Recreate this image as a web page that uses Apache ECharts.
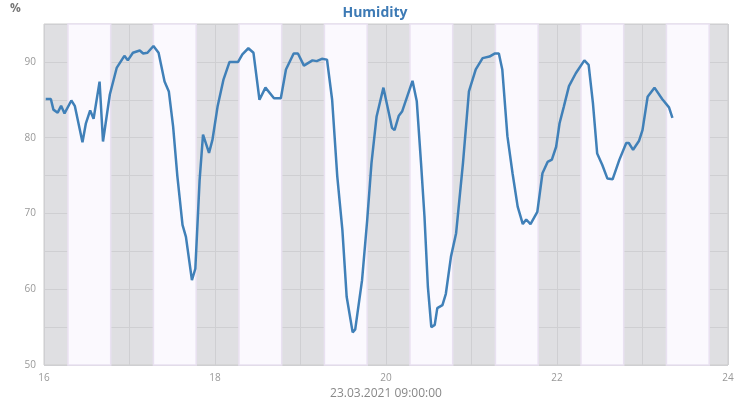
<!DOCTYPE html>
<html><head><meta charset="utf-8">
<script src="https://cdn.jsdelivr.net/npm/echarts@6/dist/echarts.min.js"></script>
<style>html,body{margin:0;padding:0;background:#fff}#c{width:750px;height:400px}</style>
</head><body><div id="c"></div>
<script>
const days = [16.02,16.08,16.11,16.16,16.2,16.24,16.32,16.36,16.45,16.49,16.54,16.58,16.65,16.69,16.77,16.85,16.94,16.98,17.04,17.12,17.16,17.21,17.28,17.34,17.41,17.46,17.51,17.56,17.62,17.66,17.73,17.77,17.82,17.86,17.93,17.97,18.03,18.10,18.17,18.27,18.32,18.39,18.45,18.52,18.59,18.69,18.77,18.83,18.92,18.97,19.04,19.14,19.19,19.25,19.31,19.37,19.43,19.49,19.54,19.61,19.64,19.72,19.78,19.83,19.89,19.97,20.07,20.10,20.15,20.19,20.31,20.36,20.41,20.45,20.49,20.53,20.57,20.60,20.66,20.70,20.76,20.82,20.90,20.97,21.05,21.13,21.21,21.27,21.32,21.36,21.42,21.48,21.54,21.60,21.64,21.69,21.77,21.83,21.89,21.94,21.99,22.03,22.08,22.14,22.22,22.32,22.37,22.42,22.47,22.53,22.59,22.65,22.73,22.81,22.84,22.89,22.96,23.00,23.06,23.14,23.23,23.31,23.35];
const humidity = [85.1,85.1,83.7,83.3,84.2,83.2,84.9,84.2,79.4,81.9,83.6,82.5,87.4,79.5,85.7,89.2,90.8,90.2,91.2,91.5,91.1,91.2,92.1,91.2,87.4,86.1,81.5,74.9,68.5,66.9,61.2,62.7,74.4,80.4,78.0,79.7,84.1,87.7,90.0,90.0,91.0,91.8,91.2,85.0,86.6,85.2,85.2,89.0,91.1,91.1,89.5,90.2,90.1,90.4,90.3,85.0,74.9,67.8,59.0,54.3,54.7,61.2,69.1,76.6,82.8,86.6,81.3,81.0,82.9,83.5,87.5,84.8,76.6,69.6,60.3,55.0,55.3,57.5,57.9,59.4,64.3,67.4,76.6,86.1,89.0,90.5,90.7,91.1,91.1,89.0,80.2,75.3,70.9,68.6,69.2,68.6,70.2,75.3,76.8,77.1,78.8,81.9,84.1,86.8,88.5,90.2,89.6,84.6,77.9,76.4,74.6,74.5,77.1,79.3,79.3,78.4,79.6,81.0,85.4,86.6,85.1,84.0,82.6];
const dayStarts = [16.28,17.28,18.28,19.28,20.28,21.28,22.28,23.28];
const dayEnds   = [16.78,17.78,18.78,19.78,20.78,21.78,22.78,23.78];
const xTickLabels = ['16','18','20','22','24'];
const title = 'Humidity';
const xName = '23.03.2021 09:00:00';
const yName = '%';

const data = days.map((d,i)=>[d,humidity[i]]);
const bands = dayStarts.map((s,i)=>[{xAxis:s},{xAxis:dayEnds[i]}]);
const chart = echarts.init(document.getElementById('c'));
chart.setOption({
  animation:false,
  title:{text:title,left:'center',top:1,textStyle:{color:'#3d7ab5',fontSize:14,fontWeight:'bold',fontFamily:'Open Sans'}},
  graphic:[{type:'text',left:10,top:3,style:{text:yName,fill:'#777',font:'bold 12px "Open Sans"'}}],
  grid:{left:44,right:22,top:24,bottom:35,outerBoundsMode:'none',containLabel:false,show:true,backgroundColor:'#dfdfe2',borderColor:'#cccccc',borderWidth:1},
  xAxis:{type:'value',min:16,max:24,interval:1,name:xName,nameLocation:'middle',nameGap:22,
    nameTextStyle:{color:'#888',fontSize:12,fontFamily:'Open Sans'},
    axisLine:{show:false},axisTick:{show:false},
    splitLine:{show:true,lineStyle:{color:'#cfcfd2',width:1}},
    axisLabel:{color:'#999',fontSize:10,fontFamily:'Open Sans',margin:8,
      formatter:v=>xTickLabels.includes(String(v))?String(v):''}},
  yAxis:{type:'value',min:50,max:95,interval:5,
    axisLine:{show:false},axisTick:{show:false},
    splitLine:{lineStyle:{color:'#cfcfd2',width:1}},
    axisLabel:{color:'#999',fontSize:10,fontFamily:'Open Sans',margin:8,formatter:v=>(v%10===0&&v<95)?String(v):''}},
  series:[{type:'line',data:data,showSymbol:false,lineStyle:{color:'#4080b8',width:2.5},z:5,
    markArea:{silent:true,itemStyle:{color:'#fbf9fe',borderColor:'#e9e1f1',borderWidth:1.5},data:bands}}]
});
</script></body></html>
